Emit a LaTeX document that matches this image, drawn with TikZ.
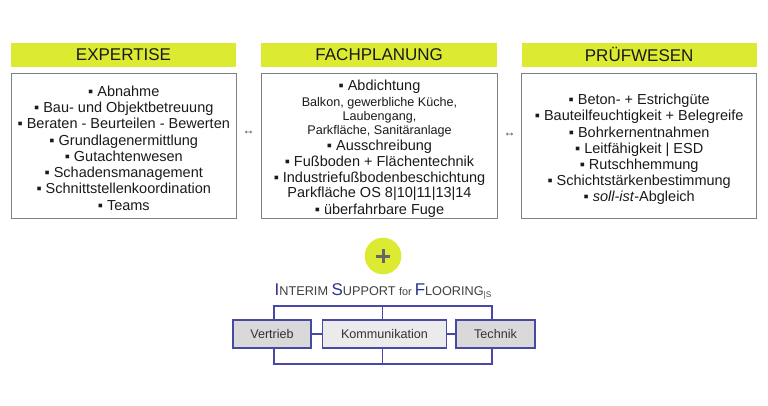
\documentclass[tikz,border=0pt]{standalone}
\usepackage{fontspec}
\setmainfont{Liberation Sans}
\definecolor{lime}{RGB}{220,234,50}
\definecolor{navy}{RGB}{46,49,146}
\definecolor{logoline}{RGB}{72,72,165}
\definecolor{txt}{RGB}{26,26,26}
\definecolor{ttl}{RGB}{64,64,64}
\begin{document}
\begin{tikzpicture}[x=1pt,y=-1pt,
  hdr/.style={fill=lime, minimum height=24pt, inner sep=0pt,
    font=\fontsize{17}{20}\selectfont, text=txt},
  bx/.style={draw=black!50, line width=0.8pt, minimum height=145pt, inner sep=0pt},
  bxtext/.style={inner sep=0pt, align=center, font=\fontsize{14.5}{16.2}\selectfont, text=txt},
  arr/.style={font=\fontsize{12}{12}\selectfont, text=black!75, inner sep=0pt},
  lbox/.style={draw=logoline, line width=1.3pt, minimum height=28pt, inner sep=0pt,
    font=\fontsize{12.6}{14}\selectfont, text=black!80},
  lline/.style={draw=logoline, line width=1.3pt}
]
\useasboundingbox (0,0) rectangle (768,405);

% headers
\node[hdr, minimum width=225pt] (h1) at (123.5,54.5) {EXPERTISE};
\node[hdr, minimum width=236pt] (h2) at (379.2,54.5) {FACHPLANUNG};
\node[hdr, minimum width=235pt] (h3) at (639.2,54.5) {PRÜFWESEN};

% boxes
\node[bx, minimum width=225.5pt] (b1) at (123.8,146) {};
\node[bx, minimum width=235.5pt] (b2) at (379.5,146) {};
\node[bx, minimum width=235pt] (b3) at (639.2,146) {};

\node[bxtext, font=\fontsize{14.5}{16.3}\selectfont] (t1) at ([yshift=-2pt]b1.center) {%
▪ Abnahme\\
▪ Bau- und Objektbetreuung\\
▪ Beraten - Beurteilen - Bewerten\\
▪ Grundlagenermittlung\\
▪ Gutachtenwesen\\
▪ Schadensmanagement\\
▪ Schnittstellenkoordination\\
▪ Teams};

\node[bxtext, font=\fontsize{14.5}{16}\selectfont] (t2) at ([yshift=-2.5pt]b2.center) {%
▪ Abdichtung\\
{\fontsize{12.6}{14}\selectfont Balkon, gewerbliche Küche,}\\[-2pt]
{\fontsize{12.6}{14}\selectfont Laubengang,}\\[-2pt]
{\fontsize{12.6}{14}\selectfont Parkfläche, Sanitäranlage}\\[0pt]
▪ Ausschreibung\\
▪ Fußboden + Flächentechnik\\
▪ Industriefußbodenbeschichtung\\[-1pt]
Parkfläche OS 8|10|11|13|14\\[1.5pt]
▪ überfahrbare Fuge};

\node[bxtext] (t3) at ([yshift=-3.5pt]b3.center) {%
▪ Beton- + Estrichgüte\\
▪ Bauteilfeuchtigkeit + Belegreife\\
▪ Bohrkernentnahmen\\
▪ Leitfähigkeit | ESD\\
▪ Rutschhemmung\\
▪ Schichtstärkenbestimmung\\
▪ \textit{soll-ist}-Abgleich};

% arrows between boxes
\node[arr] (a1) at (248.5,133) {↔};
\node[arr] (a2) at (509.5,135) {↔};

% plus
\node[circle, fill=lime, minimum size=36.6pt, inner sep=0pt] (plus) at (383,256) {};
\draw[line width=3pt, black!60] (plus.center) ++(-7,0) -- ++(14,0);
\draw[line width=3pt, black!60] (plus.center) ++(0,-7) -- ++(0,14);

% title
\node[inner sep=0pt, anchor=base, text=ttl] (title) at (383,295) {%
{\color{navy}\fontsize{17}{16}\selectfont I}{\fontsize{12.7}{12}\selectfont NTERIM }%
{\color{navy}\fontsize{17}{16}\selectfont S}{\fontsize{12.7}{12}\selectfont UPPORT }%
{\fontsize{10.8}{10}\selectfont for }%
{\color{navy}\fontsize{17}{16}\selectfont F}{\fontsize{12.7}{12}\selectfont LOORING}%
\raisebox{-2.5pt}{\fontsize{8.2}{8}\selectfont |S}};

% logo boxes
\node[lbox, fill=black!15, minimum width=78pt] (v) at (272,334) {Vertrieb};
\node[lbox, fill=black!8, minimum width=124pt] (k) at (384.5,334) {Kommunikation};
\node[lbox, fill=black!15, minimum width=79pt] (t) at (495.5,334) {Technik};

\coordinate (tl) at (274,306);
\coordinate (tm) at (382.5,306);
\coordinate (tr) at (492,306);
\coordinate (bl) at (274,364);
\coordinate (bm) at (382.5,364);
\coordinate (br) at (492,364);

\draw[lline] (tl |- v.north) -- (tl) -- (tr) -- (tr |- t.north);
\draw[lline] (tm) -- (tm |- k.north);
\draw[lline] (bl |- v.south) -- (bl) -- (br) -- (br |- t.south);
\draw[lline] (bm) -- (bm |- k.south);
\draw[lline] (v.east) -- (k.west);
\draw[lline] (k.east) -- (t.west);
\end{tikzpicture}
\end{document}
